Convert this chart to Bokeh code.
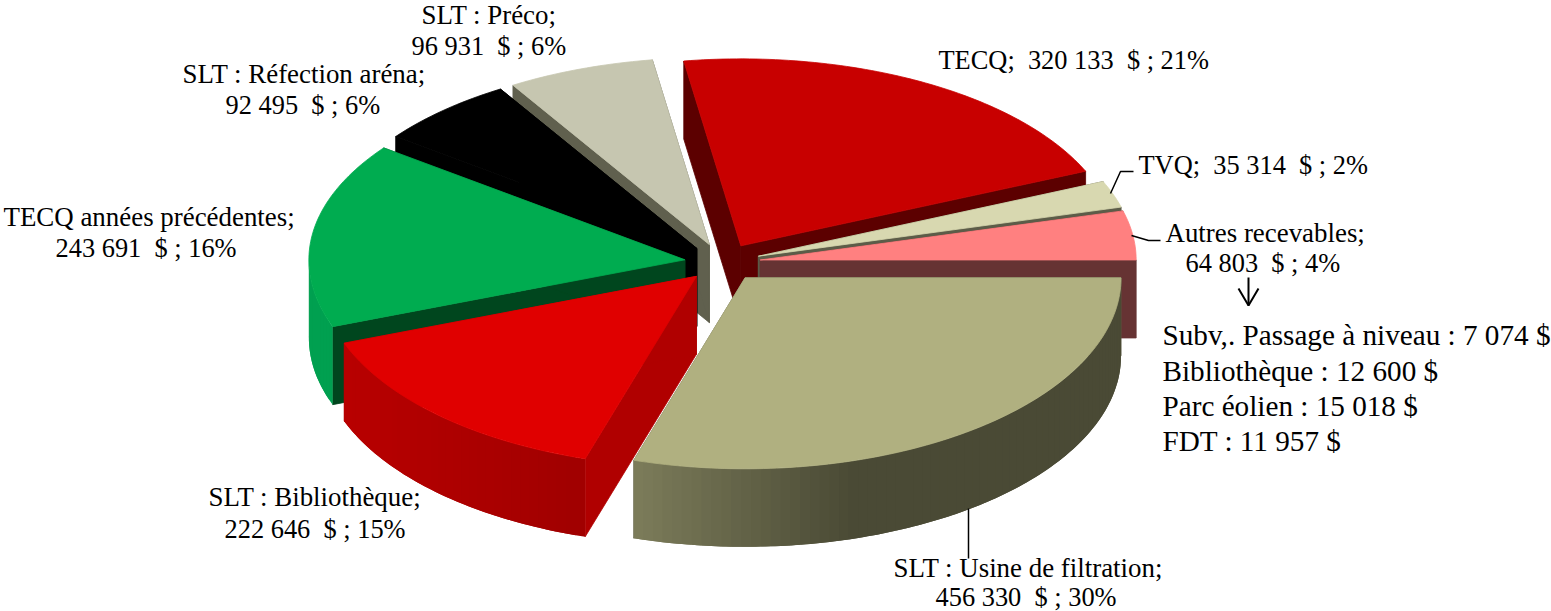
import math
from bokeh.plotting import figure
from bokeh.models import Range1d, ColumnDataSource
from bokeh.core.properties import value
from bokeh.embed import file_html
from bokeh.resources import INLINE

# ---- data -------------------------------------------------------------
names = ["SLT : Usine de filtration", "SLT : Bibliothèque", "TECQ années précédentes",
         "SLT : Réfection aréna", "SLT : Préco", "TECQ", "TVQ", "Autres recevables"]
amounts = [456330, 222646, 243691, 92495, 96931, 320133, 35314, 64803]
percents = [30, 15, 16, 6, 6, 21, 2, 4]
detail_lines = ["Subv,. Passage à niveau : 7 074 $", "Bibliothèque : 12 600 $",
                "Parc éolien : 15 018 $", "FDT : 11 957 $"]

# ---- style and layout --------------------------------------------------
top_colors = ["#B0B080", "#E00000", "#00AC50", "#000000", "#C6C6B0", "#C80000", "#D8D8B0", "#FF8080"]
face_colors = ["#5A5A40", "#B00000", "#00461E", "#000000", "#60604E", "#5C0000", "#5C5C48", "#663333"]
outer_stops = {0: ("#7C7C5A", "#4A4A35"), 1: ("#A00000", "#B80000"), 2: ("#009F50", "#00A050")}
paint_order = [5, 6, 7, 4, 3, 2, 1, 0]
CX, CY, RX, RY_FAR, RY_NEAR, DEPTH, EXPLODE = 722, 262, 376, 187, 191, 78, 38
W, H = 1551, 611
FONT = value("Liberation Serif")
NAME_PX, LABEL_PX, DETAIL_PX = "26.9px", "26.4px", "29.2px"


def mix(c1, c2, f):
    f = max(0.0, min(1.0, f))
    a = [int(c1[i:i + 2], 16) for i in (1, 3, 5)]
    b = [int(c2[i:i + 2], 16) for i in (1, 3, 5)]
    return "#%02x%02x%02x" % tuple(round(p + (q - p) * f) for p, q in zip(a, b))


total = sum(amounts)
spans = []
acc = 0.0
for v in amounts:
    d = v / total * 360
    spans.append((-acc, -(acc + d)))
    acc += d


def apex(i):
    m = math.radians((spans[i][0] + spans[i][1]) / 2)
    return CX + EXPLODE * math.cos(m), CY - EXPLODE * 0.5 * math.sin(m)


def rim(i, deg):
    ax, ay = apex(i)
    t = math.radians(deg)
    s = math.sin(t)
    return ax + RX * math.cos(t), ay - (RY_FAR if s > 0 else RY_NEAR) * s


xs, ys, fills, edges = [], [], [], []


def add(points, color, edge=1.0):
    xs.append([q[0] for q in points])
    ys.append([q[1] for q in points])
    fills.append(color)
    edges.append(edge)


for i in paint_order:
    a0, a1 = spans[i]
    ax, ay = apex(i)
    # radial faces
    for ang in (a0, a1):
        rx_, ry_ = rim(i, ang)
        add([(ax, ay), (rx_, ry_), (rx_, ry_ + DEPTH), (ax, ay + DEPTH)], face_colors[i])
    # outer wall, near half only: overlapping strips painted in turn for the shading
    n = max(2, int((a0 - a1) / 1.5))
    steps = [a0 + (a1 - a0) * k / n for k in range(n + 1)]
    for k, (u, w) in enumerate(zip(steps[:-1], steps[1:])):
        if math.sin(math.radians((u + w) / 2)) >= 0:
            continue
        p0 = rim(i, u)
        mid = rim(i, w)
        if i in outer_stops:
            c1, c2 = outer_stops[i]
            if i == 0:
                col = mix(c2, c1, (850 - (p0[0] + mid[0]) / 2) / 216)
            else:
                col = mix(c1, c2, (585 - (p0[0] + mid[0]) / 2) / 240)
        else:
            col = face_colors[i]
        # strips run on past their end, so each next strip covers the seam of the last
        degs = [w + (a1 - a0) / n * j / 2 for j in range(3)] if k < n - 1 else [w]
        tail = [rim(i, dg) for dg in degs if math.sin(math.radians(dg)) < 0] or [mid]
        upper = [p0] + tail
        lower = [(q[0], q[1] + DEPTH) for q in reversed(upper)]
        add(upper + lower, col, 0.0)
    # top
    n = max(4, int((a0 - a1) / 1.0))
    arc = [rim(i, a0 + (a1 - a0) * k / n) for k in range(n + 1)]
    add([(ax, ay)] + arc, top_colors[i])

p = figure(width=W, height=H, output_backend="svg", toolbar_location=None,
           x_range=Range1d(0, W), y_range=Range1d(H, 0), min_border=0)
p.axis.visible = False
p.grid.visible = False
p.outline_line_color = None
p.background_fill_color = "white"

src = ColumnDataSource(dict(xs=xs, ys=ys, fill=fills, edge=edges))
p.patches("xs", "ys", source=src, fill_color="fill", line_color="fill",
          line_alpha="edge", line_width=0.8)

# leader lines and arrow
p.line([1110, 1120, 1133], [193, 171, 171], line_color="black", line_width=1.5)
p.line([1131, 1148, 1160], [235, 240, 240], line_color="black", line_width=1.5)
p.line([968, 968], [508, 558], line_color="black", line_width=1.5)
p.line([1248, 1248], [277, 305], line_color="black", line_width=2)
p.line([1238, 1248, 1258], [288, 305, 288], line_color="black", line_width=2)


def amount(v):
    return f"{v:,}".replace(",", " ")


label_pos = {
    0: [(893, 567), (935, 596)],
    1: [(208, 496), (224, 528)],
    2: [(3, 216), (55, 247)],
    3: [(182, 73), (225, 104)],
    4: [(421, 14), (411, 45)],
    7: [(1165, 232), (1185, 262)],
}
single_pos = {5: (938, 59), 6: (1138, 164)}

nx, ny, nt, tx, ty, tt = [], [], [], [], [], []
for i, pos in label_pos.items():
    nx.append(pos[0][0])
    ny.append(pos[0][1])
    nt.append(names[i] + ";")
    tx.append(pos[1][0])
    ty.append(pos[1][1])
    tt.append(f"{amount(amounts[i])}\u00a0 $ ; {percents[i]}%")
for i, pos in single_pos.items():
    tx.append(pos[0])
    ty.append(pos[1])
    tt.append(f"{names[i]};\u00a0 {amount(amounts[i])}\u00a0 $ ; {percents[i]}%")
p.text(nx, ny, text=nt, text_font=FONT, text_font_size=value(NAME_PX),
       text_color="black", text_align="left", text_baseline="middle")
p.text(tx, ty, text=tt, text_font=FONT, text_font_size=value(LABEL_PX),
       text_color="black", text_align="left", text_baseline="middle")

p.text([1162] * 4, [334, 370, 405, 440], text=detail_lines, text_font=FONT,
       text_font_size=value(DETAIL_PX), text_color="black",
       text_align="left", text_baseline="middle")

open("out.html", "w").write(file_html(p, INLINE))
